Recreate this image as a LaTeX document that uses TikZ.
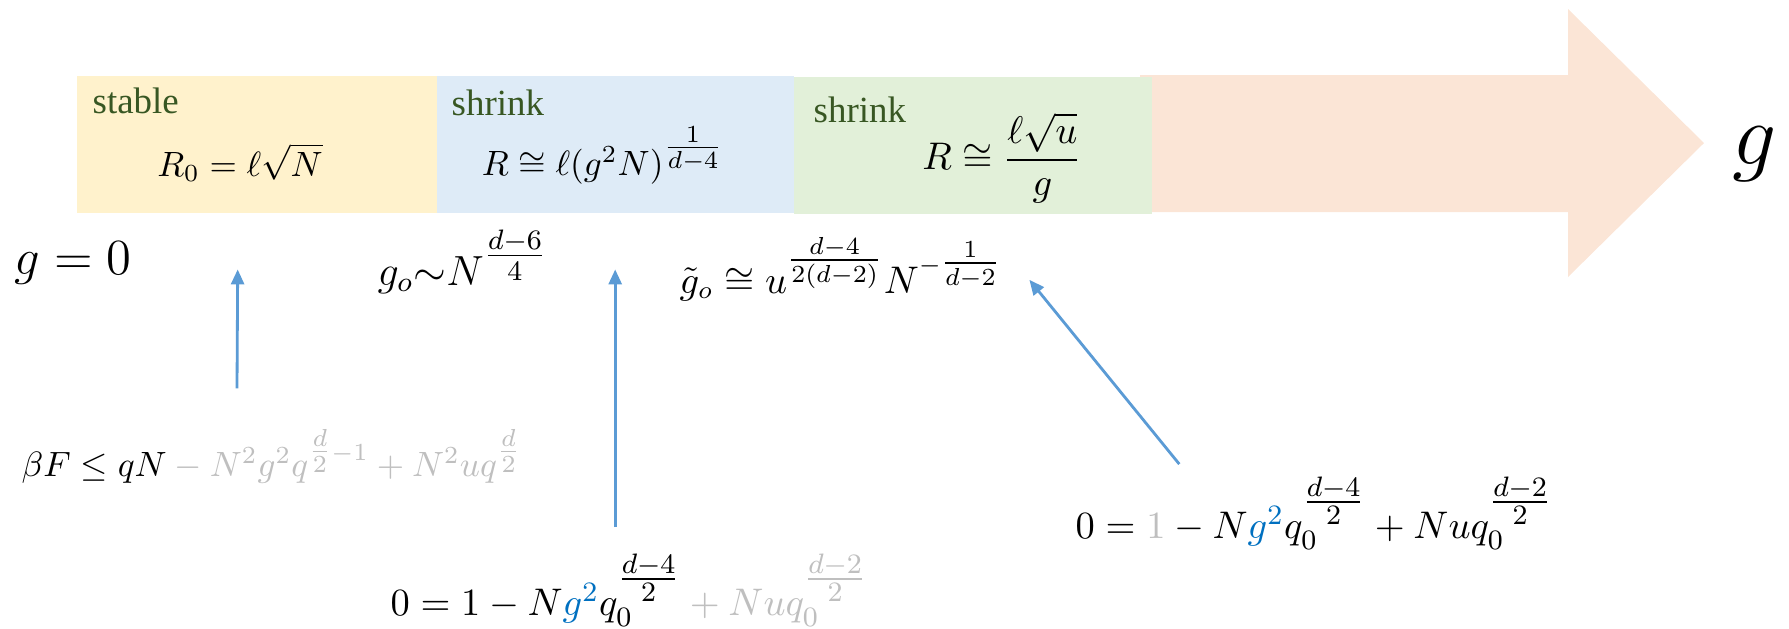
\documentclass[tikz,border=0pt]{standalone}
\usepackage{amsmath}
\usepackage{fontspec}
\usepackage{tikz}
\usetikzlibrary{arrows.meta}
\newfontfamily\tagfont{Liberation Serif}
\definecolor{zoneyellow}{HTML}{FFF2CC}
\definecolor{zoneblue}{HTML}{DEEBF7}
\definecolor{zonegreen}{HTML}{E2F0D9}
\definecolor{zonepeach}{HTML}{FBE5D6}
\definecolor{tagolive}{HTML}{385723}
\definecolor{ptrblue}{HTML}{5B9BD5}
\definecolor{gblue}{HTML}{0070C0}
\definecolor{fadegray}{HTML}{BFBFBF}
\newcommand{\fd}[1]{{\color{fadegray}#1}}
\newcommand{\gb}[1]{{\color{gblue}#1}}

\begin{document}
\begin{tikzpicture}[
        >={Triangle[length=1.5mm, width=1.3mm]},
        zone/.style={anchor=north west, minimum width=3.58cm,
                     minimum height=1.37cm, inner sep=0pt},
        tag/.style={anchor=base west, inner sep=0pt, text=tagolive,
                    font=\tagfont\fontsize{10.5}{12}\selectfont},
        eq/.style={inner sep=0pt, font=\fontsize{10}{12}\selectfont},
        ptr/.style={->, draw=ptrblue, line width=0.8pt},
    ]
        \useasboundingbox (0,0) rectangle (17.89,-6.28);
        % Coupling axis.
        \fill[zonepeach] (11.40,-0.75) -- (15.68,-0.75) -- (15.68,-0.09)
            -- (17.04,-1.43) -- (15.68,-2.77) -- (15.68,-2.12)
            -- (11.40,-2.12) -- cycle;
        \node[inner sep=0pt, anchor=base, font=\fontsize{28}{30}\selectfont]
            (gaxis) at (17.55,-1.64) {$g$};
        % Regimes.
        \node[zone, fill=zoneyellow, minimum width=3.60cm] (stable) at (0.76,-0.75) {};
        \node[zone, fill=zoneblue, minimum width=3.57cm] (shrA) at (4.36,-0.75) {};
        \node[zone, fill=zonegreen] (shrB) at (7.93,-0.76) {};
        \node[tag] (tstable) at (0.92,-1.13) {stable};
        \node[tag] (tshrA)   at (4.51,-1.15) {shrink};
        \node[tag] (tshrB)   at (8.13,-1.22) {shrink};
        \node[eq, anchor=base] (rzero) at (2.40,-1.76) {$R_0=\ell\sqrt{N}$};
        \node[eq, anchor=base] (rmid)  at (6.03,-1.75)
            {$R\cong\ell(g^2N)^{\tfrac{1}{d-4}}$};
        \node[eq, font=\fontsize{10.5}{12}\selectfont] (rright) at (10.02,-1.58)
            {$R\cong\dfrac{\ell\sqrt{u}}{g}$};
        % Crossovers.
        \node[eq, anchor=base west, font=\fontsize{15}{17}\selectfont]
            (gzero) at (0.14,-2.74) {$g=0$};
        \node[eq, anchor=base west, font=\fontsize{11.5}{14}\selectfont]
            (gcross) at (3.77,-2.85) {$g_o{\sim}N^{\tfrac{d-6}{4}}$};
        \node[eq, anchor=base west, font=\fontsize{10.5}{13}\selectfont]
            (gtil) at (6.79,-2.93)
            {$\tilde{g}_o\cong u^{\tfrac{d-4}{2(d-2)}}N^{-\tfrac{1}{d-2}}$};
        % Bounds and saddle equations.
        \node[eq, anchor=base west] (fbound) at (0.21,-4.76)
            {$\beta F\le qN\mathbin{\fd{-}}\fd{N^2g^2q^{\tfrac{d}{2}-1}}
              \mathbin{\fd{+}}\fd{N^2uq^{\tfrac{d}{2}}}$};
        \node[eq, anchor=base west, font=\fontsize{10.9}{13}\selectfont] (eqmid) at (3.90,-6.15)
            {$0=1-N\gb{g^2}q_0^{\tfrac{d-4}{2}}\mathbin{\fd{+}}\fd{Nuq_0^{\tfrac{d-2}{2}}}$};
        \node[eq, anchor=base west, font=\fontsize{10.9}{13}\selectfont] (eqright) at (10.75,-5.38)
            {$0=\fd{1}-N\gb{g^2}q_0^{\tfrac{d-4}{2}}+Nuq_0^{\tfrac{d-2}{2}}$};
        \draw[ptr] ([yshift=4mm]fbound.north -| 2.37,0) -- ([xshift=-1.9mm, yshift=-5.6mm]stable.south);
        \draw[ptr] ([yshift=2.6mm]eqmid.north -| shrA.south) -- ([yshift=-5.6mm]shrA.south);
        \draw[ptr] ([xshift=-1.35cm, yshift=1.2mm]eqright.north)
            -- ([xshift=2.7mm, yshift=-1.1mm]gtil.east);
    \end{tikzpicture}
\end{document}
